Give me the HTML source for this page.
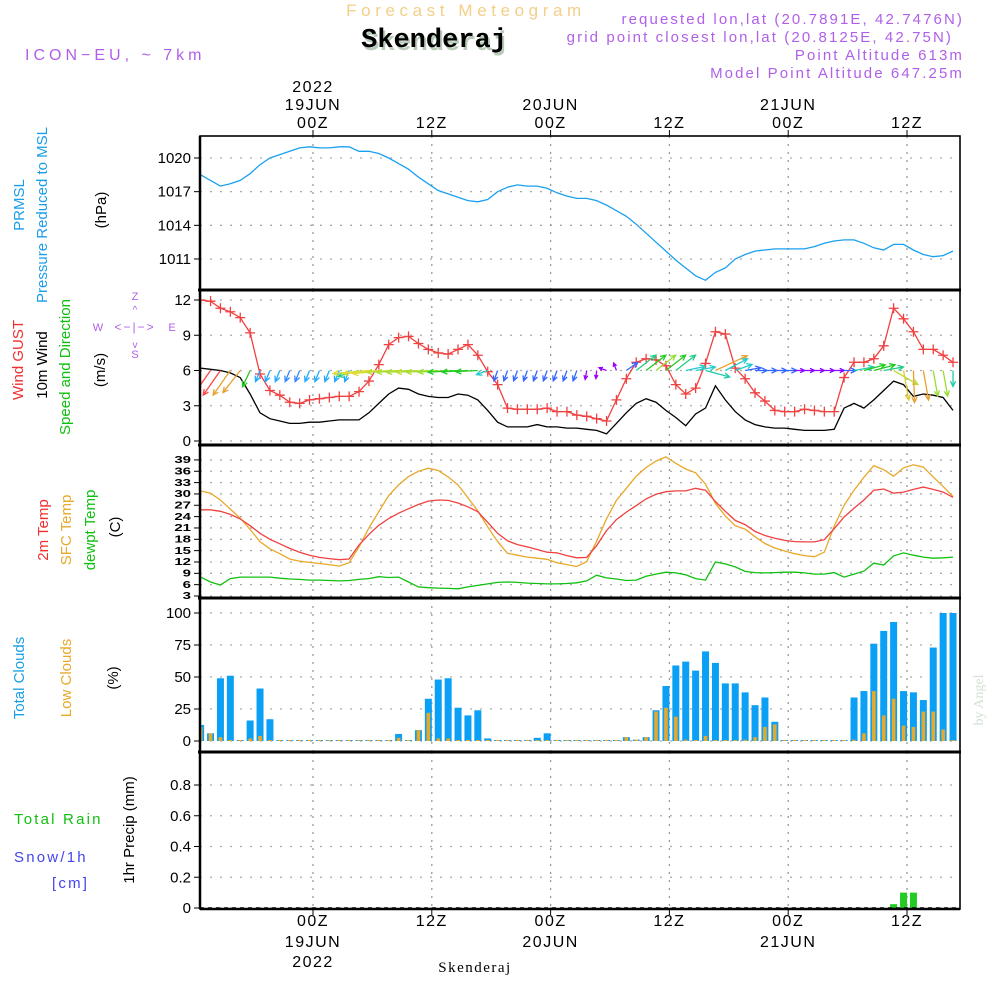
<!DOCTYPE html>
<html><head><meta charset="utf-8"><style>
body{margin:0;background:#fff;width:1000px;height:1000px;overflow:hidden}
svg{display:block;font-family:"Liberation Sans",sans-serif}
</style></head><body>
<svg id="c" width="1000" height="1000" viewBox="0 0 1000 1000">
<g>
<text x="466" y="16" text-anchor="middle" font-size="17" fill="#f3cf88" letter-spacing="4.6">Forecast Meteogram</text>
<text x="436" y="50" text-anchor="middle" font-size="27" font-weight="bold" font-family="Liberation Mono,monospace" fill="#b8cbb8">Skenderaj</text>
<text x="434" y="47" text-anchor="middle" font-size="27" font-weight="bold" font-family="Liberation Mono,monospace" fill="#000">Skenderaj</text>
<text x="25" y="60" font-size="16" fill="#b060e8" letter-spacing="4">ICON−EU, ~ 7km</text>
<text x="964" y="24" text-anchor="end" font-size="15" fill="#b060e8" letter-spacing="2.1">requested lon,lat (20.7891E, 42.7476N)</text>
<text x="953" y="42" text-anchor="end" font-size="15" fill="#b060e8" letter-spacing="2.1">grid point closest lon,lat (20.8125E, 42.75N)</text>
<text x="964" y="60" text-anchor="end" font-size="15" fill="#b060e8" letter-spacing="2.1">Point Altitude 613m</text>
<text x="964" y="78" text-anchor="end" font-size="15" fill="#b060e8" letter-spacing="2.1">Model Point Altitude 647.25m</text>
</g>
<g font-size="15">
<text transform="translate(24,205) rotate(-90)" text-anchor="middle" fill="#1a9ee8">PRMSL</text>
<text transform="translate(47,215) rotate(-90)" text-anchor="middle" fill="#1a9ee8">Pressure Reduced to MSL</text>
<text transform="translate(106,210) rotate(-90)" text-anchor="middle" fill="#000">(hPa)</text>
<text transform="translate(23,360) rotate(-90)" text-anchor="middle" fill="#f03030">Wind GUST</text>
<text transform="translate(47,365) rotate(-90)" text-anchor="middle" fill="#000">10m Wind</text>
<text transform="translate(70,367) rotate(-90)" text-anchor="middle" fill="#10c010">Speed and Direction</text>
<text transform="translate(105,370) rotate(-90)" text-anchor="middle" fill="#000">(m/s)</text>
<g fill="#b060e8" font-size="11" stroke="none">
<text x="135" y="300" text-anchor="middle">Z</text><text x="135" y="358" text-anchor="middle">S</text>
<text x="98" y="331" text-anchor="middle">W</text><text x="172" y="331" text-anchor="middle">E</text>
<text x="135" y="331" text-anchor="middle" font-size="12" letter-spacing="2">&lt;−|−&gt;</text>
<text x="135" y="313" text-anchor="middle" font-size="10">^</text><text x="135" y="348" text-anchor="middle" font-size="10">v</text>
</g>
<text transform="translate(48,530) rotate(-90)" text-anchor="middle" fill="#f03030">2m Temp</text>
<text transform="translate(71,530) rotate(-90)" text-anchor="middle" fill="#e8a828">SFC Temp</text>
<text transform="translate(95,530) rotate(-90)" text-anchor="middle" fill="#10c010">dewpt Temp</text>
<text transform="translate(120,527) rotate(-90)" text-anchor="middle" fill="#000">(C)</text>
<text transform="translate(24,678) rotate(-90)" text-anchor="middle" fill="#1a9ee8">Total Clouds</text>
<text transform="translate(71,678) rotate(-90)" text-anchor="middle" fill="#e8a828">Low Clouds</text>
<text transform="translate(118,678) rotate(-90)" text-anchor="middle" fill="#000">(%)</text>
<text x="14" y="824" fill="#10c010" letter-spacing="2.2">Total  Rain</text>
<text x="14" y="862" fill="#4444ee" letter-spacing="2.2">Snow/1h</text>
<text x="52" y="888" fill="#4444ee" letter-spacing="2.2">[cm]</text>
<text transform="translate(134,830) rotate(-90)" text-anchor="middle" fill="#000">1hr Precip (mm)</text>
</g>
<text transform="translate(983,700) rotate(-90)" text-anchor="middle" font-size="14" fill="#d5e0d5" font-family="Liberation Serif,serif">by Angel</text>
<text x="475" y="972" text-anchor="middle" font-size="15" font-family="Liberation Serif,serif" letter-spacing="1.5" fill="#000">Skenderaj</text>
<g id="plot"></g>
</svg>
<script>
const pressure=[1018.5,1018.0,1017.5,1017.7,1018.0,1018.6,1019.4,1020.0,1020.3,1020.6,1020.9,1021.0,1020.9,1020.9,1021.0,1021.0,1020.6,1020.6,1020.4,1020.0,1019.5,1019.0,1018.3,1017.7,1017.1,1016.8,1016.5,1016.2,1016.1,1016.3,1017.0,1017.4,1017.6,1017.5,1017.5,1017.3,1016.9,1016.6,1016.4,1016.4,1016.2,1015.8,1015.3,1014.8,1014.1,1013.3,1012.5,1011.7,1010.9,1010.2,1009.5,1009.1,1009.8,1010.2,1011.0,1011.4,1011.7,1011.8,1011.9,1011.9,1011.9,1011.9,1012.1,1012.4,1012.6,1012.7,1012.7,1012.4,1012.0,1011.8,1012.3,1012.3,1011.8,1011.4,1011.2,1011.3,1011.7];
const wind10=[6.2,6.1,6.0,5.8,5.4,4.0,2.4,1.9,1.7,1.5,1.5,1.6,1.6,1.7,1.8,1.8,1.8,2.4,3.2,4.0,4.5,4.4,4.0,3.8,3.7,3.7,4.0,3.9,3.5,2.6,1.6,1.2,1.2,1.2,1.4,1.2,1.2,1.1,1.1,1.0,0.9,0.6,1.5,2.4,3.2,3.6,3.3,2.6,2.0,1.3,2.3,2.8,4.7,3.5,2.5,1.8,1.4,1.2,1.1,1.1,1.0,0.9,0.9,0.9,1.0,2.8,3.2,2.8,3.5,4.3,5.1,4.8,3.8,4.0,3.9,3.7,2.6];
const gust=[12.0,11.9,11.3,11.0,10.5,9.2,5.7,4.3,3.9,3.3,3.2,3.5,3.6,3.7,3.8,3.8,4.2,5.1,6.5,8.2,8.8,8.9,8.3,7.8,7.5,7.4,7.8,8.2,7.3,5.9,4.8,2.8,2.7,2.7,2.7,2.8,2.5,2.5,2.2,2.1,1.9,1.7,3.5,5.3,6.7,7.0,6.9,6.4,4.8,4.0,4.5,6.6,9.3,9.1,6.2,5.3,4.1,3.4,2.6,2.5,2.5,2.7,2.6,2.5,2.5,5.4,6.7,6.7,7.0,8.1,11.3,10.4,9.3,7.8,7.8,7.3,6.7];
const arrowDir=[-125,-125,-125,-125,-128,-115,-112,-112,-112,-112,-112,-112,-112,-112,-112,-112,195,185,185,185,183,183,183,183,183,183,183,183,183,200,-110,-110,-110,-110,-110,-110,-110,-110,-110,-100,-95,160,110,35,38,38,38,38,38,12,10,-15,25,28,20,10,0,0,0,0,0,0,0,0,0,0,10,15,15,10,-30,-80,-88,-80,-80,-80,-90];
const arrowLen=[10,30,30,30,28,18,12,12,12,12,12,12,12,12,12,12,22,36,36,36,32,32,32,32,32,30,30,26,22,12,11,11,11,11,11,11,11,11,11,9,8,8,8,14,25,25,25,25,25,20,20,25,35,25,18,16,12,12,12,12,10,10,10,10,10,12,20,22,22,20,28,30,32,30,26,26,16];
const arrowColor=['#f0c','#f44','#f44','#e8a030','#e8a030','#2c2','#2af','#2af','#2af','#38f','#38f','#2af','#2af','#2af','#2af','#2af','#2c8','#dd3','#dd3','#dd3','#bd3','#ad3','#ad3','#bd3','#ad3','#9d3','#2c2','#2c2','#2c2','#2cc','#36f','#36f','#36f','#36f','#36f','#36f','#36f','#36f','#36f','#90f','#90f','#90f','#90f','#36f','#2c8','#2c2','#9d3','#2c2','#2c8','#2cc','#2cc','#2ca','#e8a030','#2cc','#2cc','#36f','#36f','#36f','#36f','#36f','#80f','#80f','#80f','#80f','#80f','#36f','#2ca','#2c2','#2c2','#2c8','#bd3','#dc3','#e8a030','#e8a030','#9d3','#9d3','#2ca'];
const t2m=[25.8,25.8,25.4,24.6,23.4,21.6,19.6,18.0,16.8,15.6,14.6,13.8,13.2,12.9,12.6,12.8,16.5,19.3,21.7,23.5,24.9,26.1,27.2,28.1,28.4,28.3,27.6,26.6,25.3,22.5,19.6,17.6,16.6,16.0,15.3,14.6,14.4,13.7,13.1,13.2,16.3,20.3,23.2,25.2,26.9,28.7,29.9,30.6,30.8,30.8,31.5,31.0,28.0,25.4,23.0,21.9,20.1,19.0,18.3,17.7,17.4,17.3,17.3,17.9,20.8,23.9,26.2,28.4,31.0,31.3,30.2,30.5,31.2,31.8,31.2,30.5,29.1];
const tsfc=[30.8,30.2,28.4,26.0,23.6,20.6,17.4,15.5,14.2,12.8,12.2,11.9,11.6,11.3,10.9,11.8,16.0,21.0,25.3,29.6,32.4,34.6,36.0,36.8,36.2,34.5,32.4,29.0,25.5,21.3,17.4,14.3,13.8,13.3,13.0,12.7,11.8,11.3,10.8,12.1,17.5,23.4,28.3,31.5,34.7,37.0,38.7,39.8,38.1,36.6,35.6,32.6,27.5,24.2,21.6,20.7,18.7,16.9,15.7,14.9,14.2,13.7,13.4,14.6,21.5,27.0,31.0,34.4,37.5,36.4,34.7,36.9,37.7,37.1,34.5,32.0,29.3];
const dewpt=[8.0,6.7,5.9,7.6,8.0,8.0,8.0,8.0,7.7,7.5,7.4,7.2,7.2,7.1,7.0,7.1,7.4,7.6,8.1,7.9,8.0,6.7,5.4,5.2,5.1,5.0,4.9,5.4,5.8,6.2,6.6,6.7,6.6,6.4,6.3,6.2,6.2,6.3,6.5,7.0,8.5,7.8,7.5,7.1,7.2,8.2,8.8,9.3,9.1,8.6,7.6,7.2,12.0,11.5,10.7,9.5,9.2,9.1,9.2,9.3,9.3,9.1,8.8,8.8,9.2,8.0,8.8,9.6,11.7,11.2,13.6,14.4,13.8,13.3,13.0,13.1,13.3];
const totalClouds=[12.5,6,49,51,0,16,41,17,0,0,0,0,0,0,0,0,0,0,0,0,5.5,0.5,8.5,33,48,49,26,20,24,2,0,0,0,0,2.5,6,0,0,0,0,0,0,0,3,1,3,24,43,59,62,55,70,61,45,45,38,28,34,15,0,0,0,0,0,0,0,34,39,76,86,93,39,38,32,73,100,100];
const lowClouds=[11,6,3,0,0,2,4,0,0,0,0,0,0,0,0,0,0,0,0,0,2.5,0,8.5,22,2,2,0,0,0,0,0,0,0,0,0,0,0,0,0,0,0,0,0,3,1,3,23,26,19,1,0,4,0,0,0,1,3,11,13,0,0,0,0,0,0,0,1,6,39,20,33,12,11,23,23,9,0];
const precip=[0,0,0,0,0,0,0,0,0,0,0,0,0,0,0,0,0,0,0,0,0,0,0,0,0,0,0,0,0,0,0,0,0,0,0,0,0,0,0,0,0,0,0,0,0,0,0,0,0,0,0,0,0,0,0,0,0,0,0,0,0,0,0,0,0,0,0,0,0,0,0.025,0.1,0.1,0,0,0,0];
const pTicks=[1011,1014,1017,1020];
const wTicks=[0,3,6,9,12];
const tTicks=[3,6,9,12,15,18,21,24,27,30,33,36,39];
const cTicks=[0,25,50,75,100];
const rTicks=[0,0.2,0.4,0.6,0.8];
const timeTicks=[0,12,24,36,48,60];
const timeLabels=['00Z','12Z','00Z','12Z','00Z','12Z'];
const dayLabels=['19JUN','','20JUN','','21JUN',''];
const startHour=-11.35;

const NS='http://www.w3.org/2000/svg';
const root=document.getElementById('plot');
function mk(tag,attrs,parent){const e=document.createElementNS(NS,tag);for(const k in attrs)e.setAttribute(k,attrs[k]);(parent||root).appendChild(e);return e;}
const X0=200,X1=960;
const xh=h=>313+h*9.9;
const xi=i=>xh(startHour+i);
const panels=[
 {name:'pressure',top:136,bot:290,y:v=>158+(1020-v)*11.22,ticks:pTicks,fmt:v=>v},
 {name:'wind',top:290,bot:445,y:v=>441-v*11.75,ticks:wTicks,fmt:v=>v},
 {name:'temp',top:445,bot:598,y:v=>596-(v-3)*3.78,ticks:tTicks,fmt:v=>v},
 {name:'clouds',top:598,bot:752,y:v=>741-v*1.28,ticks:cTicks,fmt:v=>v},
 {name:'precip',top:752,bot:909,y:v=>908-v*153.75,ticks:rTicks,fmt:v=>v}];
const clip=mk('clipPath',{id:'cl'},mk('defs',{}));
mk('rect',{x:X0,y:136,width:X1-X0,height:773},clip);

panels.forEach(p=>{
 const g=mk('g',{});
 
 
 p.g=g;
 p.ticks.forEach(v=>{
  const y=p.y(v);
  const gl=mk('line',{x1:X0,x2:X1,y1:y,y2:y,stroke:'#aaa','stroke-width':1.3,'stroke-dasharray':'2 8'},g);
  
  
  mk('line',{x1:X0-6,x2:X0,y1:y,y2:y,stroke:'#000','stroke-width':1},g);
  const t=mk('text',{x:X0-9,y:y+5,'text-anchor':'end','font-size':15,fill:'#000'},g);
  if(p.name==='temp'){t.setAttribute('transform',`translate(0,${y*0.35}) scale(1,0.65)`);t.setAttribute('font-weight','bold');}
  
  
  t.textContent=p.fmt(v);
 });
 timeTicks.forEach(h=>{
  const x=xh(h);
  const vl=mk('line',{x1:x,x2:x,y1:p.top,y2:p.bot,stroke:'#999','stroke-width':1.3,'stroke-dasharray':'2 6'},g);
  
  
 });
});
function line(panel,arr,color,name){
 const d=arr.map((v,i)=>(i?'L':'M')+xi(i).toFixed(1)+','+panel.y(v).toFixed(1)).join('');
 const e=mk('path',{d,fill:'none',stroke:color,'stroke-width':1.3,'clip-path':'url(#cl)'},panel.g);
 
 
 return e;
}
line(panels[0],pressure,'#1aa0f0','pressure-line');
const wp=panels[1];
line(wp,wind10,'#000','wind-10m-line');
line(wp,gust,'#f04040','gust-line');
gust.forEach((v,i)=>{
 const x=xi(i),y=wp.y(v);
 const m=mk('path',{d:`M${x-5},${y}h10M${x},${y-5}v10`,stroke:'#f04040','stroke-width':1.3,'clip-path':'url(#cl)'},wp.g);
 
 
});
arrowDir.forEach((a,i)=>{
 const x=xi(i),y=wp.y(6),r=a*Math.PI/180,L=arrowLen[i];
 const tx=x+Math.cos(r)*L,ty=y-Math.sin(r)*L;
 const hl=Math.min(6,L*0.5);
 const a1=r+Math.PI-0.45,a2=r+Math.PI+0.45;
 const d=`M${x},${y}L${tx},${ty}M${tx+Math.cos(a1)*hl},${ty-Math.sin(a1)*hl}L${tx},${ty}L${tx+Math.cos(a2)*hl},${ty-Math.sin(a2)*hl}`;
 const e=mk('path',{d,fill:'none',stroke:arrowColor[i],'stroke-width':1.3,'clip-path':'url(#cl)'},wp.g);
 
 
});
const tp=panels[2];
line(tp,tsfc,'#e8a828','sfc-temp-line');
line(tp,t2m,'#f04040','t2m-line');
line(tp,dewpt,'#10c010','dewpt-line');
const cp=panels[3];
totalClouds.forEach((v,i)=>{
 const x=xi(i),y0=cp.y(0),y=cp.y(v);
 const b=mk('rect',{x:x-3.5,y:Math.min(y,y0-1),width:7,height:Math.max(y0-y,1),fill:'#0aa0f5','clip-path':'url(#cl)'},cp.g);
 
 
 const yl=cp.y(lowClouds[i]);
 const l=mk('rect',{x:x-1.8,y:Math.min(yl,y0-1),width:3.6,height:Math.max(y0-yl,1),fill:'#e8a828','clip-path':'url(#cl)'},cp.g);
 
 
});
const rp=panels[4];
precip.forEach((v,i)=>{
 if(v<=0)return;
 const x=xi(i),y0=rp.y(0),y=rp.y(v);
 const b=mk('rect',{x:x-3.5,y:y,width:7,height:y0-y,fill:'#22cc22'},rp.g);
 
 
});
mk('line',{x1:X0,x2:X1,y1:908,y2:908,stroke:'#000','stroke-width':1.5,'stroke-dasharray':'4 4'},rp.g);
const fr=mk('g',{});


mk('rect',{x:X0,y:136,width:X1-X0,height:773,fill:'none',stroke:'#000','stroke-width':1.6},fr);
mk('line',{x1:X0,x2:X0,y1:136,y2:909,stroke:'#000','stroke-width':2.5},fr);
[290,445,598,752].forEach(y=>mk('line',{x1:X0-2,x2:X1+1,y1:y,y2:y,stroke:'#000','stroke-width':3},fr));
mk('line',{x1:X0,x2:X1,y1:909,y2:909,stroke:'#000','stroke-width':2.5},fr);
const ax=mk('g',{'font-size':16,fill:'#000','text-anchor':'middle','letter-spacing':'1.5'});


timeTicks.forEach((h,k)=>{
 const x=xh(h);
 mk('line',{x1:x,x2:x,y1:130,y2:136,stroke:'#000'},ax);
 mk('line',{x1:x,x2:x,y1:909,y2:915,stroke:'#000'},ax);
 const t=mk('text',{x:x,y:128},ax);t.textContent=timeLabels[k];
 
 
 const b=mk('text',{x:x,y:926},ax);b.textContent=timeLabels[k];
 
 
 if(dayLabels[k]){
  const d=mk('text',{x:x,y:110},ax);d.textContent=dayLabels[k];
  
  
  const d2=mk('text',{x:x,y:947},ax);d2.textContent=dayLabels[k];
  
  
 }
});
const y1=mk('text',{x:xh(0),y:92},ax);y1.textContent='2022';


const y2=mk('text',{x:xh(0),y:967},ax);y2.textContent='2022';


</script>
</body></html>
